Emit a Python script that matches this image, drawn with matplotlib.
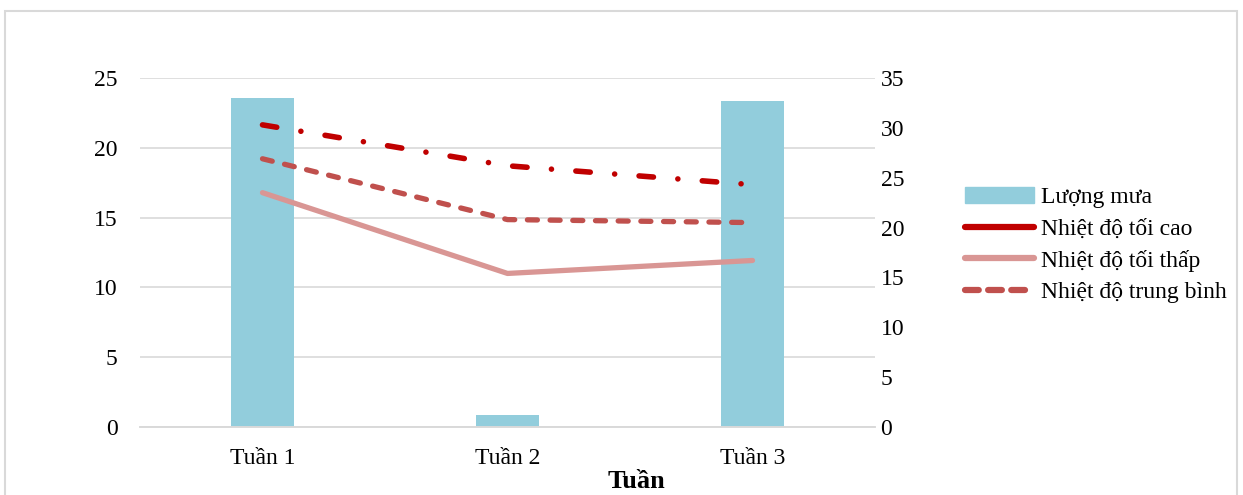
import matplotlib.pyplot as plt
from matplotlib.lines import Line2D
from matplotlib.patches import Patch, Rectangle

plt.rcParams["font.family"] = ["Liberation Serif", "DejaVu Serif"]

weeks = ["Tuần 1", "Tuần 2", "Tuần 3"]
rain = [23.6, 0.85, 23.35]
t_max = [30.3, 26.2, 24.3]
t_min = [23.5, 15.4, 16.7]
t_avg = [26.9, 20.8, 20.5]

c_bar = "#92CDDC"
c_max = "#C00000"
c_min = "#D99694"
c_avg = "#C0504D"

fig = plt.figure(figsize=(12.43, 4.95), dpi=100)
ax = fig.add_axes([140 / 1243, 68 / 495, 735 / 1243, 349 / 495])
ax2 = ax.twinx()

x = range(len(weeks))
ax.bar(x, rain, width=0.26, color=c_bar, zorder=2)
ax.set_ylim(0, 25)
ax.set_xlim(-0.5, 2.5)
ax.set_yticks(range(0, 26, 5))
ax.set_xticks(list(x))
ax.set_xticklabels(weeks)
ax.yaxis.grid(True, color="#d9d9d9", lw=1.2, zorder=0)
ax.set_axisbelow(True)

ax2.plot(x, t_max, color=c_max, lw=4.0, linestyle=(0, (2.6, 4.4, 0.01, 4.4)),
         solid_capstyle="round", dash_capstyle="round")
ax2.plot(x, t_min, color=c_min, lw=3.8, solid_capstyle="round")
ax2.plot(x, t_avg, color=c_avg, lw=3.8, linestyle=(0, (1.9, 2.4)),
         dash_capstyle="round")
ax2.set_ylim(0, 35)
ax2.set_yticks(range(0, 36, 5))

for a in (ax, ax2):
    for s in ("top", "left", "right"):
        a.spines[s].set_visible(False)
    a.spines["bottom"].set_color("#d9d9d9")
    a.spines["bottom"].set_linewidth(1.2)
    a.tick_params(length=0, labelsize=17)
ax.tick_params(axis="y", pad=16)
ax2.tick_params(axis="y", pad=4)
ax.tick_params(axis="x", pad=15)

handles = [
    Patch(color=c_bar),
    Line2D([], [], color=c_max, lw=4.5, solid_capstyle="round"),
    Line2D([], [], color=c_min, lw=4.5, solid_capstyle="round"),
    Line2D([], [], color=c_avg, lw=4.5, linestyle=(0, (2.2, 1.5)), dash_capstyle="round"),
]
labels = ["Lượng mưa", "Nhiệt độ tối cao", "Nhiệt độ tối thấp", "Nhiệt độ trung bình"]
fig.legend(handles, labels, loc="center left", bbox_to_anchor=(956 / 1243, 1 - 245 / 495),
           frameon=False, fontsize=17, handlelength=2.9, handletextpad=0.3,
           labelspacing=0.42, borderaxespad=0)

fig.text(636 / 1243, 1 - 482 / 495, "Tuần", ha="center", va="center",
         fontsize=19, fontweight="bold")

fig.patches.append(Rectangle((5 / 1243, -0.1), 1232 / 1243, 1.1 - 11 / 495,
                             transform=fig.transFigure, fill=False,
                             edgecolor="#d9d9d9", lw=1.5))

fig.savefig("out.png", dpi=100)
